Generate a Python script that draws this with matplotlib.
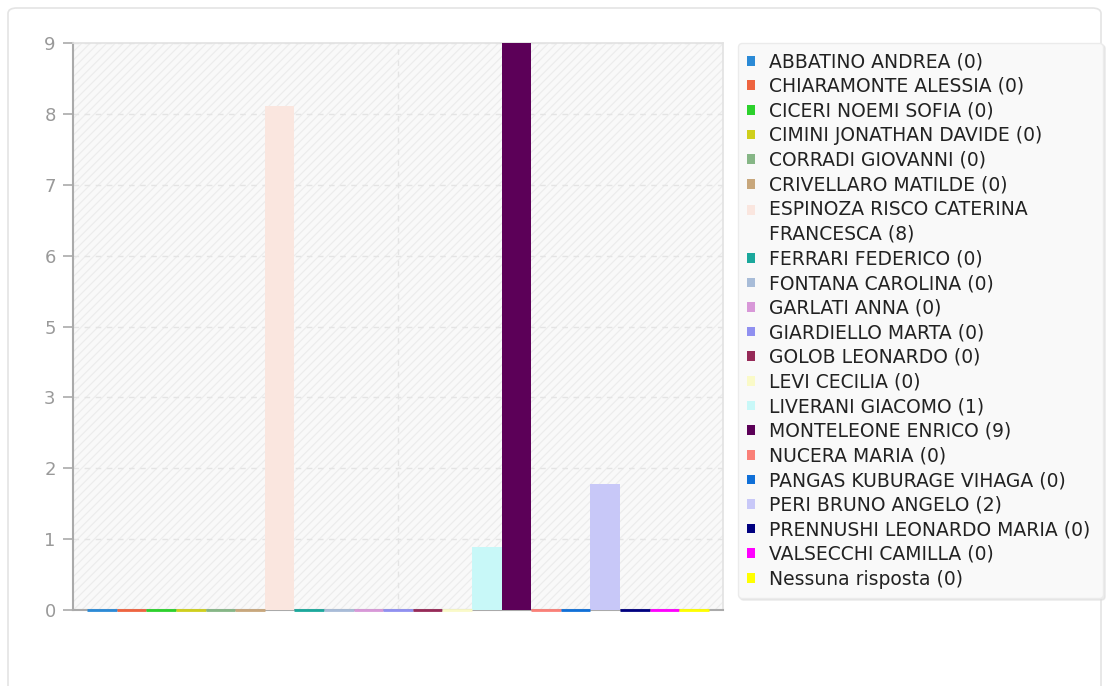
import textwrap
import matplotlib
matplotlib.use('Agg')
import matplotlib.pyplot as plt
from matplotlib.patches import Rectangle, FancyBboxPatch
from matplotlib.legend_handler import HandlerPatch
import numpy as np

names = [
    "ABBATINO ANDREA", "CHIARAMONTE ALESSIA", "CICERI NOEMI SOFIA",
    "CIMINI JONATHAN DAVIDE", "CORRADI GIOVANNI", "CRIVELLARO MATILDE",
    "ESPINOZA RISCO CATERINA FRANCESCA", "FERRARI FEDERICO", "FONTANA CAROLINA",
    "GARLATI ANNA", "GIARDIELLO MARTA", "GOLOB LEONARDO", "LEVI CECILIA",
    "LIVERANI GIACOMO", "MONTELEONE ENRICO", "NUCERA MARIA",
    "PANGAS KUBURAGE VIHAGA", "PERI BRUNO ANGELO", "PRENNUSHI LEONARDO MARIA",
    "VALSECCHI CAMILLA", "Nessuna risposta",
]
votes = [0, 0, 0, 0, 0, 0, 8, 0, 0, 0, 0, 0, 0, 1, 9, 0, 0, 2, 0, 0, 0]
colors = [
    "#2b8ad6", "#ee6440", "#2cd12c", "#cfcf1c", "#86b686", "#c8a77c",
    "#fae6df", "#1ba89c", "#a8bcd8", "#d898d8", "#9090f0", "#962a58",
    "#fafac8", "#c8f8f8", "#5c0058", "#fa8078", "#1070d8", "#c8c8f8",
    "#000080", "#ff00ff", "#ffff00",
]

W, H = 1109, 686
plt.rcParams['hatch.linewidth'] = 0.8
fig = plt.figure(figsize=(W / 100, H / 100), dpi=100)
fig.patch.set_facecolor('white')

# card outline
card = FancyBboxPatch((8 / W, -20 / H), 1093 / W, (H - 8 + 20) / H,
                      boxstyle="round,pad=0,rounding_size=0.008",
                      transform=fig.transFigure, facecolor='none',
                      edgecolor='#e4e4e4', linewidth=1.2, zorder=-1)
fig.patches.append(card)

ax = fig.add_axes([73 / W, 1 - 610 / H, 650 / W, 567 / H])
ax.set_facecolor('#f9f9f9')
ax.add_patch(Rectangle((0, 0), 1, 1, transform=ax.transAxes, facecolor='none',
                       edgecolor='#ececec', hatch='////', linewidth=0, zorder=0))

x = np.arange(len(votes))
vals = np.array(votes, dtype=float)
ax.bar(x, vals, width=1.0, color=colors, linewidth=0, zorder=3)
# empty entries still show as a coloured strip on the baseline
zero = vals == 0
ax.hlines(np.zeros(zero.sum()), x[zero] - 0.5, x[zero] + 0.5,
          colors=[c for c, z in zip(colors, zero) if z], linewidth=2.0,
          zorder=4, clip_on=False)

ax.set_xlim(-0.98, len(votes) - 0.02)
ax.set_ylim(0, max(votes))
yt = np.linspace(0, max(votes), 9)
ax.set_yticks(yt)
ax.set_yticklabels([str(int(np.floor(t + 0.5))) for t in yt])
ax.set_xticks([(len(votes) - 1) / 2])
ax.set_xticklabels([])
ax.tick_params(axis='x', length=0)
ax.tick_params(axis='y', length=7, width=1.2, color='#aaaaaa', labelcolor='#999999',
               labelsize=13, pad=5.5)
ax.grid(True, color='#e4e4e4', linestyle=(0, (4, 4)), linewidth=1, zorder=1)
ax.set_axisbelow(True)
for side in ('top', 'right'):
    ax.spines[side].set_color('#e2e2e2')
    ax.spines[side].set_linewidth(1.2)
for side in ('left', 'bottom'):
    ax.spines[side].set_color('#aaaaaa')
    ax.spines[side].set_linewidth(1.5)


def top_square(legend, orig_handle, xdescent, ydescent, width, height, fontsize):
    # keep the swatch level with the first line of a wrapped label
    return Rectangle((-xdescent, -ydescent + 9), width, height)


labels = [textwrap.fill(f"{n} ({v:.0f})", 30) for n, v in zip(names, votes)]
handles = [Rectangle((0, 0), 1, 1, facecolor=c, edgecolor='none') for c in colors]
handler_map = {h: HandlerPatch(patch_func=top_square)
               for h, lab in zip(handles, labels) if '\n' in lab}
leg = fig.legend(handles, labels, loc='upper left', mode='expand',
                 bbox_to_anchor=(738 / W, 0, 365 / W, 1 - 43 / H), borderaxespad=0,
                 fontsize=13.5, frameon=True, fancybox=True,
                 facecolor='#f9f9f9', edgecolor='#ebebeb', framealpha=1,
                 handlelength=0.42, handleheight=0.42, handletextpad=0.75,
                 borderpad=0.5, labelspacing=0.3, handler_map=handler_map,
                 shadow={'color': '#dddddd', 'alpha': 0.6, 'ox': 1.5, 'oy': -1.5})
for t in leg.get_texts():
    t.set_color('#222222')
    t.set_linespacing(1.38)

fig.savefig('out.png', dpi=100, facecolor='white')
